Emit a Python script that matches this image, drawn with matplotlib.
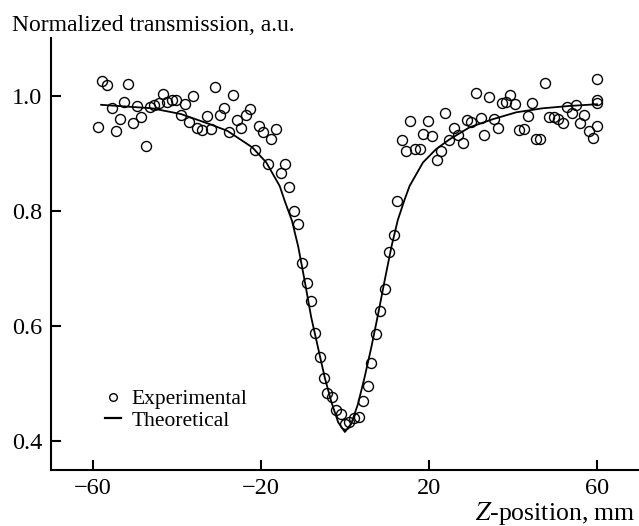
import matplotlib
matplotlib.use("Agg")
import matplotlib.pyplot as plt
from matplotlib.lines import Line2D

plt.rcParams['font.family'] = ['Liberation Serif', 'DejaVu Serif']
plt.rcParams['mathtext.fontset'] = 'stix'

# experimental points (z in mm, normalized transmission)
exp_z = [-57.9, -56.7, -51.5, -55.5, -52.6, -49.4, -58.7, -54.5, -53.5, -50.5,
         -48.4, -47.3, -46.4, -45.4, -44.3, -43.2, -42.3, -41.2, -40.2, -38.1,
         -36.1, -39.1, -37.1, -35.1, -34.0, -32.9, -31.8, -30.9, -29.8, -28.7,
         -26.7, -27.6, -25.6, -24.6, -23.6, -22.6, -21.5, -20.5, -19.5, -17.5,
         -16.5, -18.4, -14.3, -15.3, -13.3, -12.1, -11.2, -10.1, -9.1, -8.0,
         -7.1, -6.0, -5.0, -4.2, -3.1, -2.0, -0.8, 0.1, 0.9, 2.1,
         3.3, 4.3, 5.5, 6.3, 7.5, 8.4, 9.5, 10.6, 11.6, 12.5,
         13.6, 14.6, 15.6, 16.8, 17.8, 18.7, 19.7, 20.8, 21.9, 22.9,
         23.9, 24.9, 25.9, 26.9, 28.1, 29.0, 30.1, 31.2, 32.3, 33.2,
         34.4, 35.4, 36.4, 37.4, 38.4, 39.4, 40.5, 41.5, 42.6, 43.7,
         44.6, 45.6, 46.5, 47.7, 48.7, 49.7, 50.7, 51.8, 52.9, 54.0,
         55.0, 56.0, 57.0, 58.1, 59.0, 60.1, 60.1, 60.1, 60.1]
exp_t = [1.025, 1.019, 1.020, 0.978, 0.989, 0.982, 0.945, 0.939, 0.959, 0.953,
         0.962, 0.913, 0.981, 0.984, 0.987, 1.002, 0.989, 0.992, 0.992, 0.985,
         1.000, 0.966, 0.955, 0.943, 0.940, 0.964, 0.942, 1.015, 0.966, 0.978,
         1.001, 0.937, 0.958, 0.943, 0.966, 0.977, 0.906, 0.948, 0.936, 0.924,
         0.942, 0.882, 0.881, 0.865, 0.842, 0.800, 0.777, 0.710, 0.674, 0.644,
         0.588, 0.546, 0.509, 0.483, 0.476, 0.454, 0.448, 0.430, 0.433, 0.440,
         0.442, 0.470, 0.496, 0.535, 0.586, 0.626, 0.665, 0.729, 0.758, 0.817,
         0.923, 0.903, 0.956, 0.907, 0.907, 0.933, 0.956, 0.929, 0.888, 0.904,
         0.969, 0.923, 0.944, 0.931, 0.917, 0.957, 0.955, 1.005, 0.961, 0.931,
         0.997, 0.959, 0.943, 0.988, 0.989, 1.001, 0.986, 0.940, 0.942, 0.965,
         0.988, 0.924, 0.924, 1.022, 0.963, 0.963, 0.959, 0.953, 0.980, 0.969,
         0.984, 0.952, 0.966, 0.938, 0.927, 1.029, 0.993, 0.988, 0.948]

# theoretical curve
theo_z = [-58.0, -46.0, -39.0, -32.0, -28.0, -22.0, -18.7, -15.5, -14.3, -12.6,
          -11.1, -9.6, -8.0, -6.4, -4.8, -3.2, -1.6, 0.0, 1.5, 3.1,
          4.7, 6.3, 7.9, 9.5, 11.1, 12.6, 14.2, 15.4, 18.6, 21.7,
          24.9, 29.7, 35.2, 40.8, 47.1, 53.4, 60.0]
theo_t = [0.984, 0.978, 0.968, 0.950, 0.939, 0.910, 0.884, 0.843, 0.817, 0.783,
          0.738, 0.680, 0.615, 0.563, 0.511, 0.468, 0.433, 0.416, 0.430, 0.464,
          0.511, 0.563, 0.620, 0.680, 0.738, 0.784, 0.819, 0.843, 0.884, 0.907,
          0.924, 0.945, 0.959, 0.971, 0.978, 0.982, 0.985]

x_ticks = [-60, -20, 20, 60]
y_ticks = [0.4, 0.6, 0.8, 1.0]


def main():
    fig = plt.figure(figsize=(6.39, 5.26), dpi=100)
    ax = fig.add_axes([50.7 / 639, 56 / 526, 588.3 / 639, 432 / 526])

    ax.plot(theo_z, theo_t, color='black', lw=1.3)
    ax.plot(exp_z, exp_t, 'o', ms=7.2, mfc='none', mec='black', mew=1.0)

    ax.set_xlim(-70, 70)
    ax.set_ylim(0.35, 1.10)
    ax.set_xticks(x_ticks)
    ax.set_yticks(y_ticks)
    ax.set_yticklabels(['%.1f' % v for v in y_ticks])
    for s in ['top', 'right']:
        ax.spines[s].set_visible(False)
    for s in ['left', 'bottom']:
        ax.spines[s].set_linewidth(1.5)
    ax.tick_params(direction='in', length=7, width=1.5, labelsize=17.5, pad=6)

    handles = [Line2D([], [], marker='o', ls='none', ms=5.5, mfc='none', mec='black', mew=1.0),
               Line2D([], [], color='black', lw=1.6)]
    ax.legend(handles, ['Experimental', 'Theoretical'], loc='center left',
              bbox_to_anchor=(54 / 588.3, (470 - 410) / 432), frameon=False,
              fontsize=15.5, handlelength=0.75, handletextpad=0.5,
              labelspacing=0.05, borderpad=0, borderaxespad=0)

    fig.text(11.7 / 639, 1 - 30.7 / 526, 'Normalized transmission, a.u.',
             fontsize=17, va='baseline', ha='left')
    fig.text(636 / 639, 1 - 520 / 526, r'$\mathit{Z}$-position, mm',
             fontsize=18.5, va='baseline', ha='right')

    fig.savefig('out.png', dpi=100)


if __name__ == "__main__":
    main()
